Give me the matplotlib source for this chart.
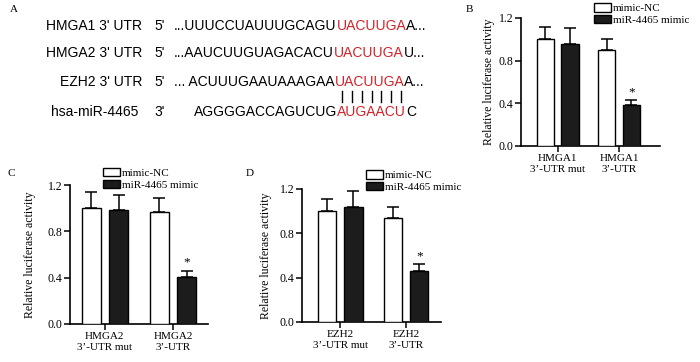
import numpy as np
import matplotlib
matplotlib.use("Agg")
import matplotlib.pyplot as plt

W, H = 700, 362

# panel A sequences
utr_names = ["HMGA1 3' UTR", "HMGA2 3' UTR", "EZH2 3' UTR"]
utr_black = ["...UUUCCUAUUUGCAGU", "...AAUCUUGUAGACACU", "... ACUUUGAAUAAAGAA"]
utr_red = ["UACUUGA", "UACUUGA", "UACUUGA"]
utr_tail = ["A...", "U...", "A..."]
mir_name = "hsa-miR-4465"
mir_black = "AGGGGACCAGUCUG"
mir_red = "AUGAACU"
mir_tail = "C"

# bar panels
groups = ["mimic-NC", "miR-4465 mimic"]
b_labels = ["HMGA1\n3\u2019-UTR mut", "HMGA1\n3\u2019-UTR"]
b_nc = [1.00, 0.90]
b_nc_err = [0.12, 0.10]
b_mir = [0.96, 0.38]
b_mir_err = [0.15, 0.05]

c_labels = ["HMGA2\n3\u2019-UTR mut", "HMGA2\n3\u2019-UTR"]
c_nc = [1.00, 0.97]
c_nc_err = [0.14, 0.12]
c_mir = [0.98, 0.41]
c_mir_err = [0.13, 0.05]

d_labels = ["EZH2\n3\u2019-UTR mut", "EZH2\n3\u2019-UTR"]
d_nc = [1.00, 0.94]
d_nc_err = [0.11, 0.10]
d_mir = [1.04, 0.46]
d_mir_err = [0.14, 0.06]

yticks = [0.0, 0.4, 0.8, 1.2]

serif = "Liberation Serif"
sans = "Liberation Sans"

fig = plt.figure(figsize=(W / 100, H / 100), dpi=100)


def fx(x):
    return x / W


def fy(y):
    return 1 - y / H


renderer = fig.canvas.get_renderer()


def seq_row(x, y, parts):
    # draw coloured pieces one after the other, return list of text objects
    out = []
    for s, c in parts:
        t = fig.text(fx(x), fy(y), s, color=c, fontsize=10, family=sans,
                     ha="left", va="center")
        bb = t.get_window_extent(renderer)
        x = bb.x1
        out.append(t)
    return out


red = "#d2232a"
rows_y = [26, 53, 82]
for name, blk, rd, tl, y in zip(utr_names, utr_black, utr_red, utr_tail, rows_y):
    fig.text(fx(142), fy(y), name, fontsize=10, family=sans, ha="right", va="center")
    fig.text(fx(154), fy(y), "5'", fontsize=10, family=sans, ha="left", va="center")
    seq_row(174, y, [(blk, "black"), (rd, red), (tl, "black")])

fig.text(fx(138), fy(112), mir_name, fontsize=10, family=sans, ha="right", va="center")
fig.text(fx(154), fy(112), "3'", fontsize=10, family=sans, ha="left", va="center")
mt = seq_row(194, 112, [(mir_black, "black"), (mir_red, red), (mir_tail, "black")])

# pairing bars under each matched base
x0 = mt[1].get_window_extent(renderer).x0
for i in range(len(mir_red)):
    tmp = fig.text(0, 0, mir_red[:i], fontsize=10, family=sans)
    w0 = tmp.get_window_extent(renderer).width if i else 0
    tmp.remove()
    tmp = fig.text(0, 0, mir_red[i], fontsize=10, family=sans)
    wc = tmp.get_window_extent(renderer).width
    tmp.remove()
    cx = x0 + w0 + wc / 2
    fig.lines.append(plt.Line2D([cx / W, cx / W], [fy(91), fy(102)],
                                transform=fig.transFigure, color="black", lw=1.0))

# panel letters
for lab, x, y in [("A", 10, 10), ("B", 466, 10), ("C", 8, 173), ("D", 246, 174)]:
    fig.text(fx(x), fy(y), lab, fontsize=8, family=serif, ha="left", va="center")


def bar_panel(rect, xlim, labels, nc, nc_err, mir, mir_err, leg_xy, ylab_x):
    ax = fig.add_axes(rect)
    x = np.arange(len(labels))
    off, w = 0.2, 0.28
    ax.bar(x - off, nc, w, color="white", edgecolor="black", lw=1.0,
           label=groups[0], zorder=3)
    ax.bar(x + off, mir, w, color="#1c1c1c", edgecolor="black", lw=1.0,
           label=groups[1], zorder=3)
    ax.errorbar(x - off, nc, yerr=[np.zeros(len(nc)), nc_err], fmt="none",
                ecolor="black", elinewidth=1.1, capsize=4, capthick=1.1, zorder=2)
    ax.errorbar(x + off, mir, yerr=[np.zeros(len(mir)), mir_err], fmt="none",
                ecolor="black", elinewidth=1.1, capsize=4, capthick=1.1, zorder=2)
    ax.text(x[-1] + off, mir[-1] + mir_err[-1] + 0.02, "*", ha="center",
            va="bottom", fontsize=9.5, family=serif)
    ax.set_ylim(0, 1.2)
    ax.set_xlim(*xlim)
    ax.set_yticks(yticks)
    ax.set_yticklabels(["%.1f" % v for v in yticks], family=serif, fontsize=8.5)
    ax.set_xticks(x)
    ax.set_xticklabels(labels, family=serif, fontsize=8, linespacing=1.3)
    ax.spines["top"].set_visible(False)
    ax.spines["right"].set_visible(False)
    for s in ["left", "bottom"]:
        ax.spines[s].set_linewidth(1.2)
    ax.tick_params(length=4, width=1.1, pad=1.5)
    ax.set_ylabel("Relative luciferase activity", family=serif, fontsize=8.5)
    ax.yaxis.set_label_coords(ylab_x, 0.5)
    ax.legend(loc="upper left", bbox_to_anchor=(fx(leg_xy[0]), fy(leg_xy[1])),
              bbox_transform=fig.transFigure, frameon=False,
              prop={"family": serif, "size": 8}, handlelength=1.5,
              handleheight=0.8, handletextpad=0.2, labelspacing=0.15,
              borderpad=0, borderaxespad=0)
    return ax


def rect_px(x0, x1, ybot, ytop):
    return [fx(x0), fy(ybot), (x1 - x0) / W, (ybot - ytop) / H]


bar_panel(rect_px(521, 660, 146, 18), (-0.6, 1.67), b_labels, b_nc, b_nc_err,
          b_mir, b_mir_err, (594, 3), -0.19)
bar_panel(rect_px(70, 208, 324, 185), (-0.51, 1.51), c_labels, c_nc, c_nc_err,
          c_mir, c_mir_err, (103, 168), -0.245)
bar_panel(rect_px(302, 441, 322, 189), (-0.58, 1.53), d_labels, d_nc, d_nc_err,
          d_mir, d_mir_err, (366, 170), -0.215)

fig.savefig("out.png", dpi=100)
